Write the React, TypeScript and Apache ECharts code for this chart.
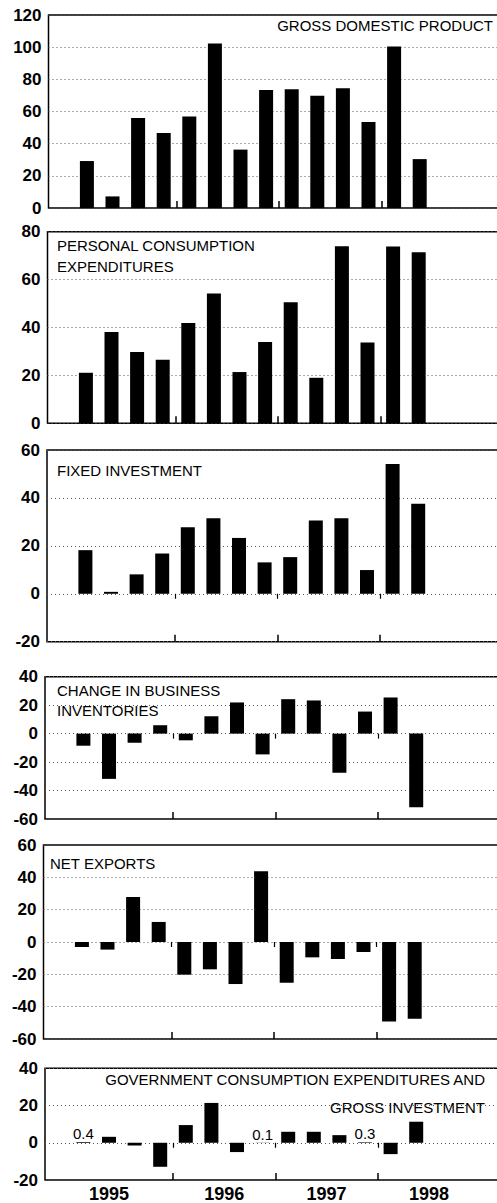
import React, { useEffect, useRef } from "react";
import * as echarts from "echarts";

// Quarter slots on the horizontal axis (one empty slot before 1995, empty slots after 1998Q2)
const quarters = [
  "1994Q4",
  "1995Q1", "1995Q2", "1995Q3", "1995Q4",
  "1996Q1", "1996Q2", "1996Q3", "1996Q4",
  "1997Q1", "1997Q2", "1997Q3", "1997Q4",
  "1998Q1", "1998Q2", "1998Q3", "1998Q4",
  "1999Q1",
];
const firstDataSlot = 1; // 1995Q1
const yearBoundarySlots = [5, 9, 13];

// Values 1995Q1 .. 1998Q2
const gdp = [29.2, 7.2, 55.9, 46.6, 56.9, 102.3, 36.3, 73.3, 73.9, 69.8, 74.5, 53.4, 100.4, 30.4];
const personalConsumption = [21.1, 38.1, 29.8, 26.5, 41.9, 54.2, 21.4, 33.9, 50.5, 19.0, 73.9, 33.7, 73.8, 71.4];
const fixedInvestment = [18.2, 0.8, 8.1, 16.8, 27.8, 31.5, 23.3, 13.1, 15.3, 30.6, 31.5, 9.9, 54.2, 37.6];
const inventories = [-8.5, -31.8, -6.4, 5.9, -4.7, 12.2, 21.9, -14.6, 24.2, 23.3, -27.5, 15.5, 25.4, -51.8];
const netExports = [-3.1, -4.7, 27.8, 12.4, -20.2, -16.9, -26.0, 43.7, -25.2, -9.5, -10.5, -6.2, -49.1, -47.4];
const government = [0.4, 3.2, -1.5, -12.9, 9.5, 21.4, -5.0, 0.1, 5.9, 5.9, 4.1, 0.3, -6.1, 11.3];

const yearLabels = ["1995", "1996", "1997", "1998"];
const yearLabelSlots = [2.5, 7, 11, 15];

const panelTitles = [
  "GROSS DOMESTIC PRODUCT",
  "PERSONAL CONSUMPTION\nEXPENDITURES",
  "FIXED INVESTMENT",
  "CHANGE IN BUSINESS\nINVENTORIES",
  "NET EXPORTS",
  "GOVERNMENT CONSUMPTION EXPENDITURES AND\nGROSS INVESTMENT",
];
const panelSeries = [gdp, personalConsumption, fixedInvestment, inventories, netExports, government];
const yMins = [0, 0, -20, -60, -60, -20];
const yMaxs = [120, 80, 60, 40, 60, 40];
const yInterval = 20;

// layout (pixels)
const gridTops = [15, 231.7, 450, 676.7, 845, 1068.3];
const gridHeights = [193, 191.6, 191.7, 142.3, 194, 111.7];
const gridLefts = [48.5, 47.5, 47, 45, 43.5, 45];
const slotWidth = 25.6;
const titleLayout = [
  { x: 493, y: 25.5, align: "right", vAlign: "middle", lh: 18 },
  { x: 57, y: 234.5, align: "left", vAlign: "top", lh: 21 },
  { x: 57, y: 470, align: "left", vAlign: "middle", lh: 18 },
  { x: 57, y: 680, align: "left", vAlign: "top", lh: 20 },
  { x: 50, y: 863.5, align: "left", vAlign: "middle", lh: 18 },
  { x: 485, y: 1065, align: "right", vAlign: "top", lh: 28 },
];

const FONT = "Arial, sans-serif";

function pad(values: number[]) {
  return quarters.map((_, i) => {
    const k = i - firstDataSlot;
    return k >= 0 && k < values.length ? values[k] : null;
  });
}

export default function App() {
  const ref = useRef<HTMLDivElement>(null);

  useEffect(() => {
    if (!ref.current) return;
    const chart = echarts.init(ref.current, null, { renderer: "svg" });

    const tickFn = (idx: number) => yearBoundarySlots.indexOf(idx) >= 0;

    const grids: any[] = [];
    const xAxes: any[] = [];
    const yAxes: any[] = [];
    const series: any[] = [];
    const graphics: any[] = [];

    panelSeries.forEach((vals, i) => {
      grids.push({
        left: gridLefts[i],
        top: gridTops[i],
        width: slotWidth * quarters.length,
        height: gridHeights[i],
        show: true,
        borderColor: "#000",
        borderWidth: 1.5,
        backgroundColor: "transparent",
      });
      yAxes.push({
        type: "value",
        gridIndex: i,
        min: yMins[i],
        max: yMaxs[i],
        interval: yInterval,
        axisLine: { show: false },
        axisTick: { show: false },
        axisLabel: {
          color: "#000",
          fontSize: 17,
          fontWeight: "bold",
          fontFamily: FONT,
          margin: 7,
        },
        splitLine: {
          show: true,
          lineStyle: { color: "#555", width: 1, type: [1, 3] },
        },
      });
      const mainIdx = xAxes.length;
      const isLast = i === panelSeries.length - 1;
      xAxes.push({
        type: "category",
        gridIndex: i,
        data: quarters,
        position: "bottom",
        boundaryGap: true,
        axisLine: { show: false, onZero: false },
        axisTick: {
          show: true,
          inside: true,
          length: 7,
          interval: tickFn,
          lineStyle: { color: "#000", width: 1.5 },
        },
        axisLabel: { show: false },
        splitLine: { show: false },
      });
      if (yMins[i] < 0) {
        xAxes.push({
          type: "category",
          gridIndex: i,
          data: quarters,
          position: "bottom",
          boundaryGap: true,
          axisLine: { show: false, onZero: true, onZeroAxisIndex: i },
          axisTick: {
            show: true,
            inside: false,
            length: 5,
            interval: tickFn,
            lineStyle: { color: "#000", width: 1.2 },
          },
          axisLabel: { show: false },
          splitLine: { show: false },
        });
      }
      series.push({
        type: "bar",
        xAxisIndex: mainIdx,
        yAxisIndex: i,
        data: pad(vals),
        barWidth: 14,
        itemStyle: { color: "#000" },
        silent: true,
        label: isLast
          ? {
              show: true,
              position: "top",
              distance: 1,
              color: "#000",
              fontSize: 15,
              fontFamily: FONT,
              formatter: (p: any) =>
                p.value != null && Math.abs(p.value) < 1 ? String(p.value) : "",
            }
          : { show: false },
      });
      const t = titleLayout[i];
      graphics.push({
        type: "text",
        x: t.x,
        y: t.y,
        silent: true,
        style: {
          text: panelTitles[i],
          fill: "#000",
          fontSize: 15,
          fontFamily: FONT,
          lineHeight: t.lh,
          textAlign: t.align,
          textVerticalAlign: t.vAlign,
        },
      });
    });

    // year label axis on bottom panel
    const lastGrid = panelSeries.length - 1;
    xAxes.push({
      type: "value",
      gridIndex: lastGrid,
      min: 0,
      max: quarters.length,
      interval: 0.5,
      position: "bottom",
      axisLine: { show: false, onZero: false },
      axisTick: { show: false },
      splitLine: { show: false },
      axisLabel: {
        color: "#000",
        fontSize: 18,
        fontWeight: "bold",
        fontFamily: FONT,
        margin: 5,
        formatter: (v: number) => {
          const k = yearLabelSlots.indexOf(v);
          return k >= 0 ? yearLabels[k] : "";
        },
      },
    });

    chart.setOption({
      animation: false,
      backgroundColor: "#fff",
      textStyle: { fontFamily: FONT },
      grid: grids,
      xAxis: xAxes,
      yAxis: yAxes,
      series,
      graphic: graphics,
    });

    return () => chart.dispose();
  }, []);

  return (
    <div
      style={{
        position: "fixed",
        left: 0,
        top: 0,
        width: 497,
        height: 1203,
        overflow: "hidden",
        background: "#fff",
        fontFamily: FONT,
      }}
    >
      <div ref={ref} style={{ width: 520, height: 1203 }} />
    </div>
  );
}
